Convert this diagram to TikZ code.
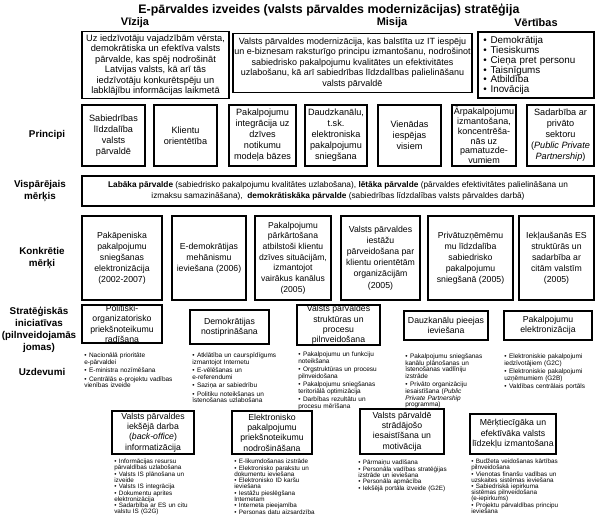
\documentclass[tikz,border=0pt]{standalone}
\usepackage{fontspec}
\setmainfont{Liberation Sans}

\newcommand{\tsk}[1]{\par\hangindent=1.4ex\hangafter=1\noindent\hbox to 1.4ex{\textbullet\hss}#1}

\begin{document}
\begin{tikzpicture}[
  x=0.025cm,
  y=-0.025cm,
  tbox/.style={draw=black, line width=1.2pt, inner sep=0pt, align=center},
  cellsize/.style 2 args={minimum width=(#1)*0.025cm, minimum height=(#2)*0.025cm},
  midtext/.style={font=\fontsize{6.6}{7.5}\selectfont},
  princtext/.style={font=\fontsize{6.5}{7.8}\selectfont},
  princtight/.style={font=\fontsize{6.4}{7.0}\selectfont},
  goaltext/.style={font=\fontsize{6.2}{7.9}\selectfont},
  goaltight/.style={font=\fontsize{6.1}{7.6}\selectfont},
  inittext/.style={font=\fontsize{6.2}{7.4}\selectfont},
  rowlabel/.style={font=\fontsize{7}{8.6}\selectfont\bfseries, align=center},
  colhead/.style={font=\fontsize{7.8}{9}\selectfont\bfseries},
  tasklist/.style={anchor=north west, inner sep=0pt, text width=3.2cm, align=left,
    font=\fontsize{4.6}{4.7}\selectfont\setlength{\lineskiplimit}{-10pt}\setlength{\parskip}{1.3pt}},
  sublist/.style={tasklist,
    font=\fontsize{4.5}{4.25}\selectfont\setlength{\lineskiplimit}{-10pt}\setlength{\parskip}{0.4pt}}
]
  \useasboundingbox (0,0) rectangle (600,516);

  \node[font=\fontsize{8.8}{10}\selectfont\bfseries] (title) at (329,10)
    {E-pārvaldes izveides (valsts pārvaldes modernizācijas) stratēģija};
  \node[colhead] (hvision) at (135,23) {Vīzija};
  \node[colhead] (hmission) at (392,23) {Misija};
  \node[colhead] (hvalues) at (536,23) {Vērtības};

  % vizija, misija, vertibas
  \node[tbox, midtext, cellsize={147}{67}] (vision) at (155.5,65)
    {Uz iedzīvotāju vajadzībām vērsta,\\demokrātiska un efektīva valsts\\pārvalde, kas spēj nodrošināt\\Latvijas valsts, kā arī tās\\iedzīvotāju konkurētspēju un\\labklājību informācijas laikmetā};
  \node[tbox, font=\fontsize{6.4}{7.5}\selectfont, cellsize={239}{59}] (mission) at (352.5,63)
    {Valsts pārvaldes modernizācija, kas balstīta uz IT iespēju\\un e-biznesam raksturīgo principu izmantošanu, nodrošinot\\sabiedrisko pakalpojumu kvalitātes un efektivitātes\\uzlabošanu, kā arī sabiedrības līdzdalības palielināšanu\\valsts pārvaldē};
  \node[tbox, cellsize={116}{66}] (values) at (536,65) {};
  \node[anchor=north west, inner sep=0pt, text width=2.8cm, align=left,
    font=\fontsize{7.0}{6.9}\selectfont\setlength{\lineskiplimit}{-10pt}\setlength{\parskip}{0pt}] (valuelist) at (483,34)
    {\tsk{Demokrātija}\tsk{Tiesiskums}\tsk{Cieņa pret personu}\tsk{Taisnīgums}\tsk{Atbildība}\tsk{Inovācija}};

  % principi
  \node[rowlabel] (lprinc) at (47,135) {Principi};
  \foreach \xa/\xb/\st/\txt [count=\i] in {
    82/145/princtext/{Sabiedrības\\līdzdalība\\valsts\\pārvaldē},
    154/217/princtext/{Klientu\\orientētība},
    229/296/princtext/{Pakalpojumu\\integrācija uz\\dzīves\\notikumu\\modeļa bāzes},
    305/367/princtext/{Daudzkanālu,\\t.sk.\\elektroniska\\pakalpojumu\\sniegšana},
    378/441/princtext/{Vienādas\\iespējas\\visiem},
    452/516/princtight/{Ārpakalpojumu\\izmantošana,\\koncentrēša-\\nās uz\\pamatuzde-\\vumiem},
    527/594/princtext/{Sadarbība ar\\privāto\\sektoru\\(\textit{Public Private}\\\textit{Partnership})}}
    \node[tbox, \st, cellsize={\xb-\xa}{61}] (princ\i) at ({(\xa+\xb)/2},135.5) {\txt};

  % visparejais merkis
  \node[rowlabel] (lgoal) at (40,191) {Vispārējais\\mērķis};
  \node[tbox, font=\fontsize{5.9}{7.8}\selectfont, cellsize={512}{30}] (goal) at (338,191)
    {\textbf{Labāka pārvalde} (sabiedrisko pakalpojumu kvalitātes uzlabošana), \textbf{lētāka pārvalde} (pārvaldes efektivitātes  palielināšana un\\izmaksu samazināšana), \ \textbf{demokrātiskāka pārvalde} (sabiedrības līdzdalības valsts pārvaldes darbā)};

  % konkretie merki
  \node[rowlabel] (laim) at (42,258) {Konkrētie\\mērķi};
  \foreach \xa/\xb/\st/\txt [count=\i] in {
    82/162/goaltext/{Pakāpeniska\\pakalpojumu\\sniegšanas\\elektronizācija\\(2002-2007)},
    172/246/goaltext/{E-demokrātijas\\mehānismu\\ieviešana (2006)},
    255/331/goaltight/{Pakalpojumu\\pārkārtošana\\atbilstoši klientu\\dzīves situācijām,\\izmantojot\\vairākus kanālus\\(2005)},
    341/420/goaltext/{Valsts pārvaldes\\iestāžu\\pārveidošana par\\klientu orientētām\\organizācijām\\(2005)},
    428/513/goaltext/{Privātuzņēmēmu\\mu līdzdalība\\sabiedrisko\\pakalpojumu\\sniegšanā (2005)},
    519/594/goaltext/{Iekļaušanās ES\\struktūrās un\\sadarbība ar\\citām valstīm\\(2005)}}
    \node[tbox, \st, cellsize={\xb-\xa}{84}] (aim\i) at ({(\xa+\xb)/2},258) {\txt};

  % strategiskas iniciativas
  \node[rowlabel] (linit) at (39,330) {Stratēģiskās\\iniciatīvas\\(pilnveidojamās\\jomas)};
  \foreach \xa/\ya/\xb/\yb/\txt [count=\i] in {
    82/305/162/343/{Politiski-\\organizatorisko\\priekšnoteikumu\\radīšana},
    190/310/269/344/{Demokrātijas\\nostiprināšana},
    297/305/380/345/{Valsts pārvaldes\\struktūras un\\procesu\\pilnveidošana},
    404/311/488/340/{Dauzkanālu pieejas\\ieviešana},
    504/311/592/340/{Pakalpojumu\\elektronizācija}}
    \node[tbox, inittext, cellsize={\xb-\xa}{\yb-\ya}] (init\i) at ({(\xa+\xb)/2},{(\ya+\yb)/2}) {\txt};

  % uzdevumi
  \node[rowlabel] (ltask) at (42,372) {Uzdevumi};
  \node[tasklist] (task1) at (84,349)
    {\tsk{Nacionālā prioritāte\\e-pārvaldei}\tsk{E-ministra nozīmēšana}\tsk{Centrālās e-projektu vadības\\vienības izveide}};
  \node[tasklist] (task2) at (192,349)
    {\tsk{Atklātība un caurspīdīgums\\izmantojot Internetu}\tsk{E-vēlēšanas un\\e-referendumi}\tsk{Saziņa ar sabiedrību}\tsk{Politiku noteikšanas un\\īstenošanas uzlabošana}};
  \node[tasklist] (task3) at (298,348)
    {\tsk{Pakalpojumu un funkciju\\noteikšana}\tsk{Orgstruktūras un procesu\\pilnveidošana}\tsk{Pakalpojumu sniegšanas\\teritoriālā optimizācija}\tsk{Darbības rezultātu un\\procesu mērīšana}};
  \node[tasklist] (task4) at (405,350)
    {\tsk{Pakalpojumu sniegšanas\\kanālu plānošanas un\\īstenošanas vadlīniju\\izstrāde}\tsk{Privāto organizāciju\\iesaistīšana (\textit{Public\\Private Partnership}\\programma)}};
  \node[tasklist] (task5) at (504,350)
    {\tsk{Elektroniskie pakalpojumi\\iedzīvotājiem (G2C)}\tsk{Elektroniskie pakalpojumi\\uzņēmumiem (G2B)}\tsk{Valdības centrālais portāls}};

  % apakseja rinda
  \foreach \xa/\ya/\xb/\yb/\txt [count=\i] in {
    112/411/194/454/{Valsts pārvaldes\\iekšējā darba\\(\textit{back-office})\\informatizācija},
    232/411/312/454/{Elektronisko\\pakalpojumu\\priekšnoteikumu\\nodrošināšana},
    360/409/444/454/{Valsts pārvaldē\\strādājošo\\iesaistīšana un\\motivācija},
    470/414/556/454/{Mērķtiecīgāka un\\efektīvāka valsts\\līdzekļu izmantošana}}
    \node[tbox, inittext, cellsize={\xb-\xa}{\yb-\ya}] (area\i) at ({(\xa+\xb)/2},{(\ya+\yb)/2}) {\txt};

  \node[sublist] (sub1) at (114,457)
    {\tsk{Informācijas resursu\\pārvaldības uzlabošana}\tsk{Valsts IS plānošana un\\izveide}\tsk{Valsts IS integrācija}\tsk{Dokumentu aprites\\elektronizācija}\tsk{Sadarbība ar ES un citu\\valstu IS (G2G)}};
  \node[sublist] (sub2) at (234,457)
    {\tsk{E-likumdošanas izstrāde}\tsk{Elektronisko parakstu un\\dokumentu ieviešana}\tsk{Elektronisko ID karšu\\ieviešana}\tsk{Iestāžu pieslēgšana\\Internetam}\tsk{Interneta pieejamība}\tsk{Personas datu aizsardzība}};
  \node[sublist] (sub3) at (358,458)
    {\tsk{Pārmaiņu vadīšana}\tsk{Personāla vadības stratēģijas\\izstrāde un ieviešana}\tsk{Personāla apmācība}\tsk{Iekšējā portāla izveide (G2E)}};
  \node[sublist] (sub4) at (471,457)
    {\tsk{Budžeta veidošanas kārtības\\pilnveidošana}\tsk{Vienotas finanšu vadības un\\uzskaites sistēmas ieviešana}\tsk{Sabiedriskā iepirkuma\\sistēmas pilnveidošana\\(e-iepirkums)}\tsk{Projektu pārvaldības principu\\ieviešana}};
\end{tikzpicture}
\end{document}
